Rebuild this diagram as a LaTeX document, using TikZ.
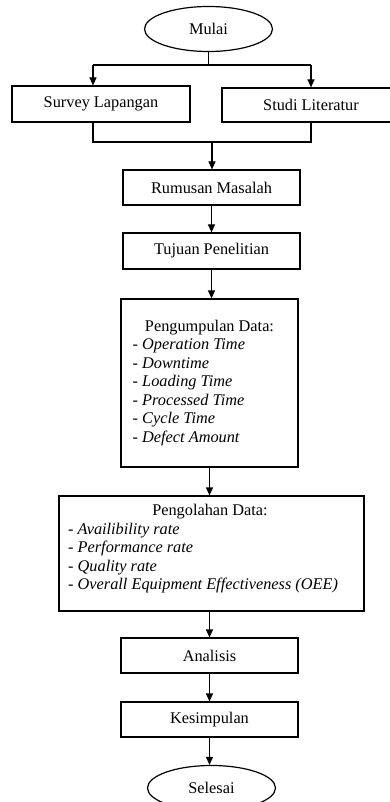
\documentclass[tikz,border=0pt]{standalone}
\usepackage{fontspec}
\setmainfont{Liberation Serif}
\usetikzlibrary{arrows.meta,shapes.geometric}

\tikzset{
	kotak/.style={draw, line width=1.2pt, inner sep=0pt, minimum width=177pt, minimum height=35pt},
	lonjong/.style={draw, ellipse, line width=1.2pt, inner sep=0pt, minimum width=128pt, minimum height=45pt},
	garis/.style={line width=1.2pt},
	panah/.style={line width=1.2pt, -{Triangle[width=7pt,length=8pt]}},
	isian/.style={anchor=base west, inner sep=0pt},
	judul/.style={anchor=base, inner sep=0pt}
}

\begin{document}
\begin{tikzpicture}[x=1pt, y=-1pt, font=\fontsize{16.3}{18.5}\selectfont]
						\useasboundingbox (0,0) rectangle (390,802);
						\node[lonjong] (mulai) at (208.5, 29){Mulai};
						\node[kotak, minimum width=178pt, minimum height=36pt] (survey) at (101, 104){Survey Lapangan};
						\node[kotak, minimum width=178pt, minimum height=34pt] (studi) at (311, 105){Studi Literatur};
						\node[kotak] (rumusan) at (211.5, 187.5){Rumusan Masalah};
						\node[kotak, minimum height=36pt] (tujuan) at (211.5, 251){Tujuan Penelitian};
						\node[kotak, minimum height=168pt] (kumpul) at (209.5, 383){};
							\node[judul] (kumpuljudul) at (209.5, 331){Pengumpulan Data:};
							\node[isian] (operation) at (132.5, 349.5){- \textit{Operation Time}};
							\node[isian] (downtime) at (132.5, 368){- \textit{Downtime}};
							\node[isian] (loading) at (132.5, 386.5){- \textit{Loading Time}};
							\node[isian] (processed) at (132.5, 405){- \textit{Processed Time}};
							\node[isian] (cycle) at (132.5, 423.5){- \textit{Cycle Time}};
							\node[isian] (defect) at (132.5, 442){- \textit{Defect Amount}};
						\node[kotak, minimum width=305pt, minimum height=115pt] (olah) at (211.5, 553.5){};
							\node[judul] (olahjudul) at (210, 515){Pengolahan Data:};
							\node[isian] (availibility) at (68, 534){- \textit{Availibility rate}};
							\node[isian] (performance) at (68, 552.5){- \textit{Performance rate}};
							\node[isian] (quality) at (68, 571){- \textit{Quality rate}};
							\node[isian] (oee) at (68, 589.5){- \textit{Overall Equipment Effectiveness (OEE)}};
						\node[kotak] (analisis) at (209.5, 655.5){Analisis};
						\node[kotak] (kesimpulan) at (209.5, 719.5){Kesimpulan};
						\node[lonjong] (selesai) at (211.5, 788){Selesai};

						% cabang ke survey dan studi
						\coordinate (cabang) at (208.5, 65);
						\coordinate (cabangkiri) at (93, 65);
						\coordinate (cabangkanan) at (311, 65);
						\draw[garis] (mulai.south) -- (cabang);
						\draw[garis] (cabangkiri) -- (cabangkanan);
						\draw[panah] (cabangkiri) -- (cabangkiri |- survey.north);
						\draw[panah] (cabangkanan) -- (cabangkanan |- studi.north);

						% gabung ke rumusan
						\coordinate (gabungkiri) at (93, 142);
						\coordinate (gabungkanan) at (311, 142);
						\coordinate (gabung) at (212, 142);
						\draw[garis] (gabungkiri |- survey.south) -- (gabungkiri) -- (gabungkanan) -- (gabungkanan |- studi.south);
						\draw[panah] (gabung) -- (gabung |- rumusan.north);

						\draw[panah] (rumusan.south) -- (rumusan.south |- tujuan.north);
						\draw[panah] (tujuan.south) -- (tujuan.south |- kumpul.north);
						\draw[panah] (kumpul.south) -- (kumpul.south |- olah.north);
						\draw[panah] (analisis.north |- olah.south) -- (analisis.north);
						\draw[panah] (analisis.south) -- (kesimpulan.north);
						\draw[panah] (kesimpulan.south) -- (kesimpulan.south |- selesai.north);
					\end{tikzpicture}
\end{document}
